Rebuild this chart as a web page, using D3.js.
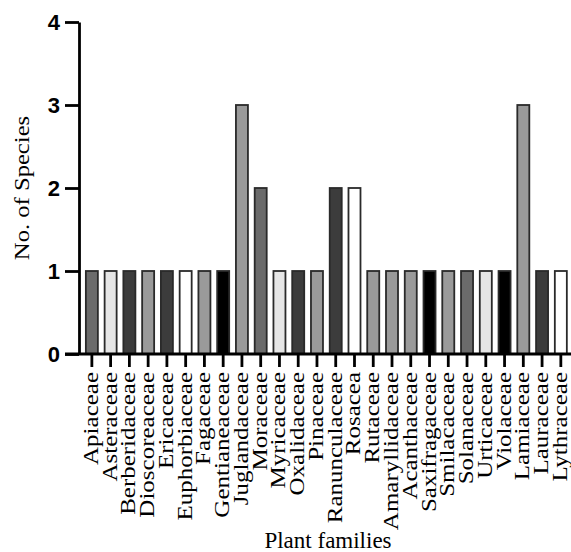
<!DOCTYPE html>
<html>
<head>
<meta charset="utf-8">
<script src="https://cdn.jsdelivr.net/npm/d3@7"></script>
<style>
  body { margin: 0; background: #fff; }
  svg { display: block; }
</style>
</head>
<body>
<div id="chart"></div>
<script>
const families = ["Apiaceae", "Asteraceae", "Berberidaceae", "Dioscoreaceae", "Ericaceae",
  "Euphorbiaceae", "Fagaceae", "Gentianeaceae", "Juglandaceae", "Moraceae", "Myricaceae",
  "Oxalidaceae", "Pinaceae", "Ranunculaceae", "Rosacea", "Rutaceae", "Amaryllidaceae",
  "Acanthaceae", "Saxifragaceae", "Smilacaceae", "Solanaceae", "Urticaceae", "Violaceae",
  "Lamiaceae", "Lauraceae", "Lythraceae"];
const species = [1, 1, 1, 1, 1, 1, 1, 1, 3, 2, 1, 1, 1, 2, 2, 1, 1, 1, 1, 1, 1, 1, 1, 3, 1, 1];
const yTicks = [0, 1, 2, 3, 4];

// bar shades, one per family
const fills = ["#6b6b6b", "#e6e6e6", "#3c3c3c", "#9a9a9a", "#3c3c3c", "#ffffff", "#9a9a9a",
  "#000000", "#9a9a9a", "#6b6b6b", "#e6e6e6", "#3c3c3c", "#9a9a9a", "#3c3c3c", "#ffffff",
  "#9a9a9a", "#9a9a9a", "#9a9a9a", "#000000", "#9a9a9a", "#6b6b6b", "#e6e6e6", "#000000",
  "#9a9a9a", "#3c3c3c", "#ffffff"];

const width = 571, height = 552;
const y0 = 354, yTop = 22, xLeft = 79;

const svg = d3.select("#chart").append("svg")
  .attr("width", width)
  .attr("height", height);

const x = d3.scaleBand()
  .domain(families)
  .range([xLeft + 0.3, 573.4])
  .paddingInner(0.36)
  .paddingOuter(0.35);

const y = d3.scaleLinear().domain([0, 4]).range([y0, yTop]);

// bars
svg.append("g")
  .selectAll("rect")
  .data(families)
  .enter().append("rect")
  .attr("x", d => x(d))
  .attr("y", (d, i) => y(species[i]))
  .attr("width", x.bandwidth())
  .attr("height", (d, i) => y0 - y(species[i]))
  .attr("fill", (d, i) => fills[i])
  .attr("stroke", "#2a2a2a")
  .attr("stroke-width", 1.8);

// y axis
const yAxis = svg.append("g")
  .attr("transform", `translate(${xLeft},0)`)
  .call(d3.axisLeft(y).tickValues(yTicks).tickFormat(d3.format("d")).tickSize(14).tickPadding(5).tickSizeOuter(0));
yAxis.select(".domain").attr("stroke", "#000").attr("stroke-width", 2.8);
yAxis.selectAll(".tick line").attr("stroke", "#000").attr("stroke-width", 2.8);
yAxis.selectAll(".tick text")
  .attr("fill", "#000")
  .style("font-family", "'Liberation Sans', Arial, sans-serif")
  .style("font-weight", "bold")
  .style("font-size", "22px");

// x axis
const xAxis = svg.append("g")
  .attr("transform", `translate(0,${y0})`)
  .call(d3.axisBottom(x).tickSize(13).tickSizeOuter(0));
xAxis.select(".domain").remove();
xAxis.selectAll(".tick line").attr("stroke", "#000").attr("stroke-width", 2.8);
xAxis.selectAll(".tick text").remove();
xAxis.append("line")
  .attr("x1", 65).attr("x2", width)
  .attr("y1", 0).attr("y2", 0)
  .attr("stroke", "#000")
  .attr("stroke-width", 2.8);

// category labels
svg.append("g")
  .selectAll("text")
  .data(families)
  .enter().append("text")
  .attr("transform", d => `translate(${x(d) + x.bandwidth() / 2 + 6},372) rotate(-90) scale(1.25,1)`)
  .attr("text-anchor", "end")
  .style("font-family", "'Liberation Serif', 'Times New Roman', serif")
  .style("font-size", "20px")
  .attr("fill", "#000")
  .text(d => d);

// axis titles
svg.append("text")
  .attr("transform", "translate(29,188) rotate(-90) scale(1.12,1)")
  .attr("text-anchor", "middle")
  .style("font-family", "'Liberation Serif', 'Times New Roman', serif")
  .style("font-size", "22px")
  .attr("fill", "#000")
  .text("No. of Species");

svg.append("text")
  .attr("x", 328)
  .attr("y", 548)
  .attr("text-anchor", "middle")
  .style("font-family", "'Liberation Serif', 'Times New Roman', serif")
  .style("font-size", "23px")
  .attr("fill", "#000")
  .text("Plant families");
</script>
</body>
</html>
